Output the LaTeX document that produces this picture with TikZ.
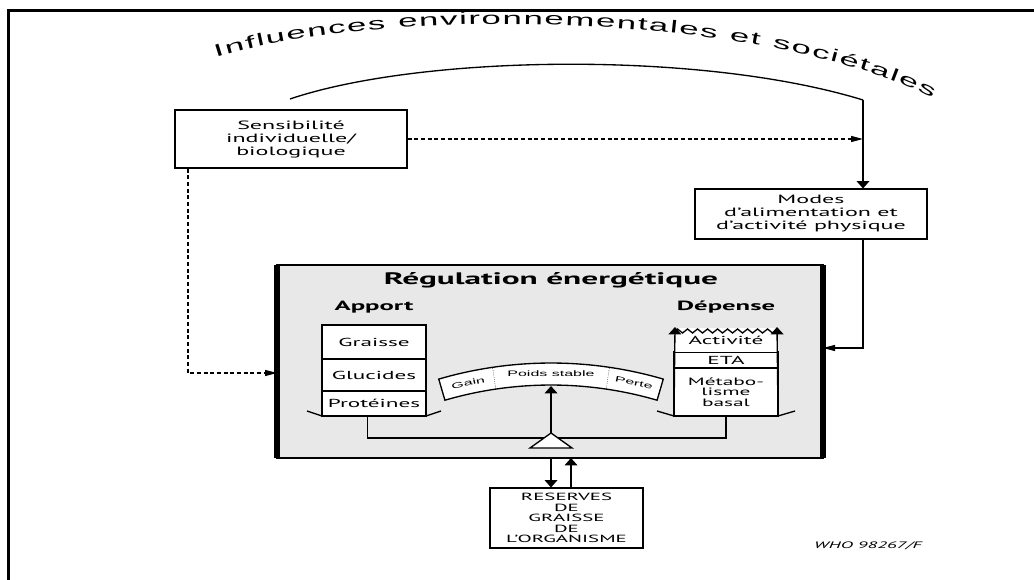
\documentclass[tikz,border=0pt]{standalone}
\usepackage{fontspec}
\setmainfont{PT Sans}[FakeStretch=2]
\newfontfamily\arcfont{Liberation Sans}[FakeStretch=2]
\usetikzlibrary{arrows.meta,positioning,calc,decorations.text,decorations.pathmorphing}

\begin{document}
\begin{tikzpicture}%
    [x=0.75pt, y=-0.75pt,
    box/.style={draw, fill=white, line width=0.8pt, align=center, inner sep=2pt,
      font=\fontsize{9}{9.75}\selectfont},
    cell/.style={draw, fill=white, line width=0.8pt, align=center, minimum width=78pt,
      inner sep=0pt, outer sep=0pt, font=\fontsize{8.7}{9}\selectfont},
    conn/.style={line width=1pt},
    dline/.style={conn, densely dashed},
    harr/.style={-{Triangle[length=9pt,width=4.5pt]}},
    varr/.style={-{Triangle[length=5.5pt,width=9.5pt]}},
    gtext/.style={font=\arcfont\fontsize{6}{6}\selectfont, inner sep=0pt}]

    \useasboundingbox (0,0) rectangle (1034,580);
    \draw [line width=2.2pt] (8.3,580) -- (8.3,10.7) -- (1034,10.7);

    \node [box, minimum width=174pt, minimum height=43.5pt] (sens) at (291,139)
      {Sensibilité\\individuelle/\\biologique};
    \node [box, minimum width=174pt, minimum height=37.5pt] (modes) at (811,214)
      {Modes\\d'alimentation et\\d'activité physique};
    \node [box, minimum width=114.75pt, minimum height=45pt,
      font=\fontsize{7.8}{7.9}\selectfont] (reserves) at (566.5,518)
      {RESERVES\\DE\\GRAISSE\\DE\\L'ORGANISME};

    % regulation box
    \node [draw, fill=black!9, line width=2pt, outer sep=0pt, minimum width=409.5pt,
      minimum height=144.75pt] (regul) at (550,361.5) {};
    \draw [line width=4pt] (regul.north west) -- (regul.south west);
    \draw [line width=4pt] (regul.north east) -- (regul.south east);

    \node [font=\bfseries\fontsize{12.5}{12.5}\selectfont] (title) at (551,280) {Régulation énergétique};
    \node [font=\bfseries\fontsize{10}{10}\selectfont] (apport) at (374,307) {Apport};
    \node [font=\bfseries\fontsize{10}{10}\selectfont] (depense) at (726,307) {Dépense};

    \node [cell, minimum height=25.5pt] (graisse) at (374,342) {Graisse};
    \node [cell, minimum height=24pt, below=0pt of graisse] (glucides) {Glucides};
    \node [cell, minimum height=18.75pt, below=0pt of glucides] (proteines) {Protéines};

    \node [cell, minimum height=12pt] (eta) at (726,360) {ETA};
    \node [cell, minimum height=36pt, below=0pt of eta, font=\fontsize{8}{7.9}\selectfont] (metab)
      {Métabo-\\lisme\\basal};
    \node [cell, draw=none, minimum height=18pt, above=0pt of eta] (activite) {Activité};

    \coordinate (zzL) at (675,327);
    \coordinate (zzR) at (777,327);
    \draw [conn, varr] (metab.south west) -- (zzL);
    \draw [conn, varr] (metab.south east) -- (zzR);
    \draw [conn, decorate, decoration={zigzag, segment length=7.5pt, amplitude=1.5pt}]
      ([yshift=-3pt]zzL) -- ([yshift=-3pt]zzR);

    \draw [conn] (proteines.south west) -- ++(-15,-5);
    \draw [conn] (proteines.south east) -- ++(15,-5);
    \draw [conn] (metab.south west) -- ++(-17,-5);
    \draw [conn] (metab.south east) -- ++(17,-5);

    % gauge
    \coordinate (gc) at (551,763);
    \draw [conn, fill=white] ($(gc)+(253.7:400)$) arc [start angle=253.7, end angle=286.3, radius=400]
      -- ($(gc)+(286.3:378)$) arc [start angle=286.3, end angle=253.7, radius=378] -- cycle;
    \draw [densely dotted] ($(gc)+(261.6:378)$) -- ($(gc)+(261.6:400)$);
    \draw [densely dotted] ($(gc)+(278.4:378)$) -- ($(gc)+(278.4:400)$);
    \node [gtext, rotate=12.3] (gain) at ($(gc)+(257.7:389)$) {Gain};
    \node [gtext] (stable) at ($(gc)+(270:389)$) {Poids stable};
    \node [gtext, rotate=-12.3] (perte) at ($(gc)+(282.3:389)$) {Perte};

    % balance
    \coordinate (pivot) at (551,433);
    \coordinate (beam) at (551,438);
    \draw [conn] ([xshift=-5pt]proteines.south) |- (beam) -| (metab.south);
    \draw [conn, varr] (pivot) -- ($(gc)+(270:377)$);
    \draw [conn, fill=white] (pivot) -- ++(-21,15) -- ++(42,0) -- cycle;

    \coordinate (upx) at (571,0);
    \draw [conn, varr] (regul.south -| pivot) -- (reserves.north -| pivot);
    \draw [conn, varr] (reserves.north -| upx) -- (regul.south -| upx);

    % influences
    \coordinate (arcL) at (290,99);
    \coordinate (arcR) at (863,100);
    \coordinate (rowR) at (0,348);
    \coordinate (rowL) at (0,373);
    \draw [conn] (arcL) .. controls (420,55) and (700,50) .. (arcR);
    \path [decorate, decoration={text along path, text align={fit to path},
      text={|\arcfont\fontsize{13}{13}\selectfont|Influences environnementales et sociétales}}]
      (216,58) .. controls (375,6) and (760,10) .. (932,98);

    \draw [conn, varr] (arcR) -- (arcR |- modes.north);
    \draw [conn, harr] (modes.south -| arcR) |- (regul.east |- rowR);
    \draw [dline, harr] (sens.east) -- (sens.east -| arcR);
    \draw [dline, harr] ([xshift=-77.25pt]sens.south) |- (regul.west |- rowL);

    \node [font=\itshape\fontsize{7}{7}\selectfont] (who) at (868,546) {WHO 98267/F};
  \end{tikzpicture}
\end{document}
